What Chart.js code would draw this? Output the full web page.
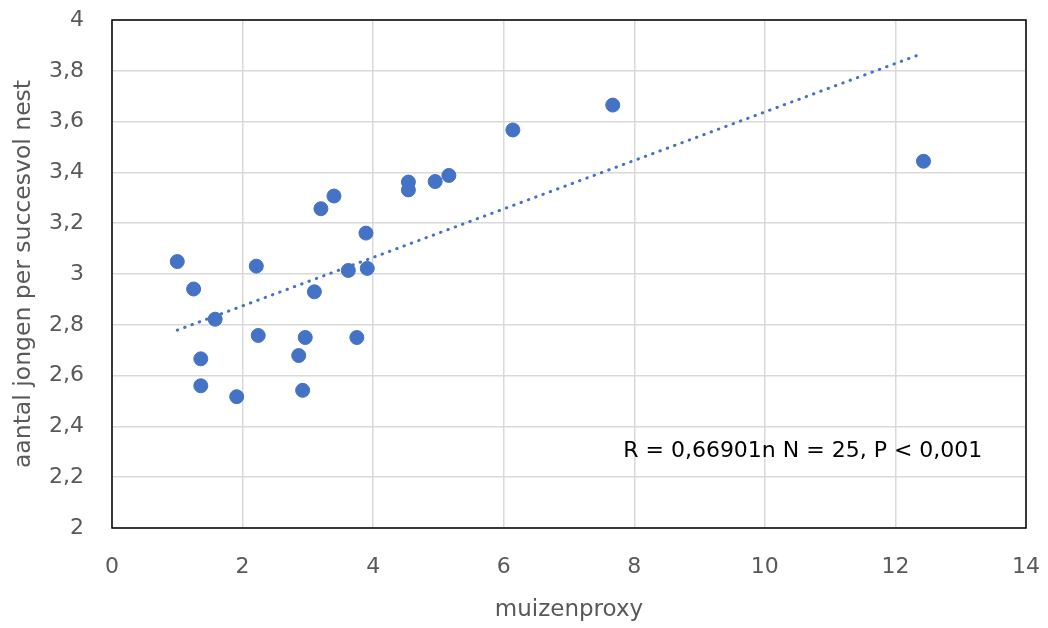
<!DOCTYPE html>
<html>
<head>
<meta charset="utf-8">
<script src="https://cdn.jsdelivr.net/npm/chart.js@4/dist/chart.umd.min.js"></script>
<style>
  html, body { margin: 0; padding: 0; background: #fff; }
  #wrap { width: 1048px; height: 628px; position: relative; }
</style>
</head>
<body>
<div id="wrap"><canvas id="chart"></canvas></div>
<script>
// muizenproxy vs. aantal jongen per succesvol nest
const muizenX = [1.00, 1.25, 1.58, 1.36, 1.36, 1.91, 2.21, 2.24, 2.86, 2.96, 2.92, 3.10, 3.20,
  3.40, 3.62, 3.75, 3.89, 3.91, 4.54, 4.54, 4.95, 5.16, 6.14, 7.67, 12.43];
const jongenY = [3.049, 2.941, 2.822, 2.666, 2.560, 2.517, 3.031, 2.758, 2.679, 2.750, 2.542, 2.930, 3.257,
  3.307, 3.014, 2.750, 3.161, 3.022, 3.362, 3.331, 3.364, 3.388, 3.567, 3.665, 3.444];

// trendline end points
const trendX = [1.00, 12.40];
const trendY = [2.779, 3.867];

const xTicks = [0, 2, 4, 6, 8, 10, 12, 14];
const yTicks = [2, 2.2, 2.4, 2.6, 2.8, 3, 3.2, 3.4, 3.6, 3.8, 4];

const annotText = 'R = 0,66901n N = 25, P < 0,001';

const FONT = "'DejaVu Sans', sans-serif";
const BLUE = '#4472C4';
const GREY = '#595959';

const fmt = v => String(Math.round(v * 10) / 10).replace('.', ',');

// frame around the plot + the annotation text
const framePlugin = {
  id: 'frame',
  afterDatasetsDraw(chart) {
    const { ctx, chartArea: a, scales } = chart;
    ctx.save();
    ctx.strokeStyle = '#000';
    ctx.lineWidth = 1.5;
    ctx.strokeRect(a.left, a.top, a.right - a.left, a.bottom - a.top);

    ctx.font = "22px " + FONT;
    ctx.fillStyle = '#000';
    ctx.textAlign = 'left';
    ctx.textBaseline = 'middle';
    ctx.fillText(annotText, scales.x.getPixelForValue(7.83), scales.y.getPixelForValue(2.303));
    ctx.restore();
  }
};

new Chart(document.getElementById('chart'), {
  type: 'scatter',
  plugins: [framePlugin],
  data: {
    datasets: [
      {
        label: 'jongen',
        data: muizenX.map((x, i) => ({ x, y: jongenY[i] })),
        backgroundColor: BLUE,
        borderColor: BLUE,
        borderWidth: 1,
        pointRadius: 7,
        order: 1
      },
      {
        label: 'trend',
        data: trendX.map((x, i) => ({ x, y: trendY[i] })),
        showLine: true,
        borderColor: BLUE,
        borderWidth: 3,
        borderDash: [0.5, 7.3],
        borderCapStyle: 'round',
        pointRadius: 0,
        order: 2
      }
    ]
  },
  options: {
    responsive: true,
    maintainAspectRatio: false,
    animation: false,
    layout: { autoPadding: false, padding: { top: 20, right: 22, left: 0, bottom: 0 } },
    plugins: {
      legend: { display: false },
      tooltip: { enabled: false }
    },
    scales: {
      x: {
        type: 'linear',
        min: 0,
        max: 14,
        afterBuildTicks: s => { s.ticks = xTicks.map(v => ({ value: v })); },
        afterFit: s => { s.height = 100; s.paddingLeft = 0; s.paddingRight = 0; },
        grid: { color: '#d9d9d9', lineWidth: 1.5, drawTicks: false },
        border: { display: false },
        ticks: { color: GREY, font: { family: FONT, size: 22 }, padding: 26 },
        title: {
          display: true,
          text: 'muizenproxy',
          color: GREY,
          font: { family: FONT, size: 23 },
          padding: { top: 4, bottom: 4 }
        }
      },
      y: {
        type: 'linear',
        min: 2,
        max: 4,
        afterBuildTicks: s => { s.ticks = yTicks.map(v => ({ value: v })); },
        afterFit: s => { s.width = 112; s.paddingTop = 0; s.paddingBottom = 0; },
        grid: { color: '#d9d9d9', lineWidth: 1.5, drawTicks: false },
        border: { display: false },
        ticks: { color: GREY, font: { family: FONT, size: 22 }, padding: 28, callback: v => fmt(v) },
        title: {
          display: true,
          text: 'aantal jongen per succesvol nest',
          color: GREY,
          font: { family: FONT, size: 23.5 },
          padding: { top: 10, bottom: 10 }
        }
      }
    }
  }
});
</script>
</body>
</html>
